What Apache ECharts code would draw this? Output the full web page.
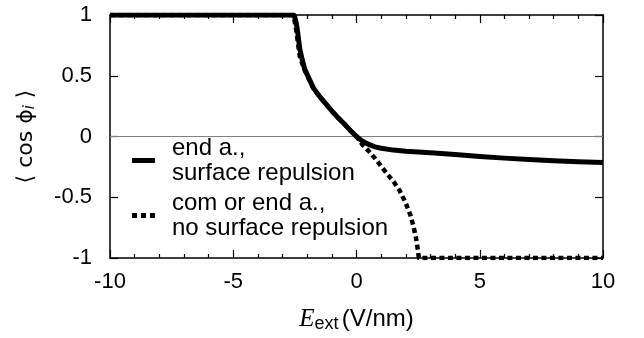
<!DOCTYPE html>
<html>
<head>
<meta charset="utf-8">
<script src="https://cdn.jsdelivr.net/npm/echarts@6/dist/echarts.min.js"></script>
<style>
html,body{margin:0;padding:0;background:#fff;}
#c{width:644px;height:338px;}
</style>
</head>
<body>
<div id="c"></div>
<script>
// Data
const E_solid = [-10, -2.55, -2.5, -2.45, -2.4, -2.35, -2.3, -2.2, -2.1, -2.0, -1.75, -1.5, -1.25, -1.0, -0.75, -0.5, -0.25, 0, 0.25, 0.5, 0.75, 1, 1.5, 2, 2.5, 3, 4, 5, 6, 7, 8, 9, 10];
const cos_solid = [1, 1, 0.98, 0.94, 0.88, 0.8, 0.72, 0.63, 0.555, 0.51, 0.4, 0.33, 0.27, 0.21, 0.155, 0.105, 0.05, 0.0, -0.04, -0.065, -0.085, -0.097, -0.112, -0.122, -0.128, -0.134, -0.149, -0.165, -0.178, -0.19, -0.2, -0.208, -0.215];

const E_dashed = [-10, -2.6, -2.55, -2.5, -2.45, -2.4, -2.35, -2.3, -2.2, -2.1, -2.0, -1.75, -1.5, -1.25, -1.0, -0.75, -0.5, -0.25, 0, 0.25, 0.5, 0.75, 1.0, 1.25, 1.5, 1.75, 2.0, 2.1, 2.2, 2.3, 2.4, 2.45, 2.5, 2.53, 10];
const cos_dashed = [1, 1, 0.98, 0.94, 0.88, 0.81, 0.73, 0.66, 0.6, 0.545, 0.5, 0.4, 0.33, 0.27, 0.21, 0.155, 0.105, 0.05, 0.0, -0.07, -0.12, -0.18, -0.245, -0.31, -0.37, -0.445, -0.55, -0.6, -0.655, -0.73, -0.82, -0.88, -0.95, -1, -1];

const zeroE = [-10, 10];
const zeroV = [0, 0];

const xTicks = [-10, -5, 0, 5, 10];
const yTicks = [-1, -0.5, 0, 0.5, 1];

const nameSolid = 'end a.,\nsurface repulsion';
const nameDashed = 'com or end a.,\nno surface repulsion';

function pairs(xs, ys){ return xs.map((x,i)=>[x, ys[i]]); }

const chart = echarts.init(document.getElementById('c'), null, {renderer:'canvas'});
const fontFam = '"Liberation Sans", Arial, Helvetica, sans-serif';
const axisCommon = {
  axisLine:{show:true, onZero:false, lineStyle:{color:'#000', width:1.5}},
  axisTick:{show:true, inside:true, length:8, lineStyle:{color:'#000', width:1.2}},
  splitLine:{show:false}
};
chart.setOption({
  animation:false,
  backgroundColor:'#fff',
  textStyle:{fontFamily:fontFam, color:'#000'},
  grid:{left:110, right:41, top:15, bottom:77, containLabel:false},
  legend:{
    orient:'vertical', left:127, top:118, itemWidth:23, itemHeight:5, itemGap:-20,
    symbolKeepAspect:false,
    data:[
      {name:nameSolid, icon:'rect'},
      {name:nameDashed, icon:'path://M0,0h5v5h-5z M9,0h5v5h-5z M18,0h5v5h-5z'}
    ],
    itemStyle:{color:'#000'},
    textStyle:{fontFamily:fontFam, fontSize:24, color:'#000', lineHeight:25, padding:[25,0,0,12]}
  },
  xAxis:[
    Object.assign({}, axisCommon, {
      type:'value', position:'bottom', min:xTicks[0], max:xTicks[xTicks.length-1], interval:5,
      minorTick:{show:true, splitNumber:5, length:4, lineStyle:{color:'#000', width:1.2}},
      axisLabel:{show:true, fontSize:22, color:'#000', margin:13, fontFamily:fontFam},
      name:'{e|E}{s|ext} {n|(V/nm)}', nameLocation:'middle', nameGap:47,
      nameTextStyle:{rich:{
        e:{fontFamily:'"Liberation Serif", "Times New Roman", serif', fontStyle:'italic', fontSize:25, color:'#000'},
        s:{fontFamily:fontFam, fontSize:18, color:'#000', padding:[10,0,0,0]},
        n:{fontFamily:fontFam, fontSize:24, color:'#000'}
      }}
    }),
    Object.assign({}, axisCommon, {
      type:'value', position:'top', min:xTicks[0], max:xTicks[xTicks.length-1], interval:5,
      minorTick:{show:true, splitNumber:5, length:4, lineStyle:{color:'#000', width:1.2}},
      axisLabel:{show:false}
    })
  ],
  yAxis:[
    Object.assign({}, axisCommon, {
      type:'value', position:'left', min:yTicks[0], max:yTicks[yTicks.length-1], interval:0.5,
      axisLabel:{show:true, fontSize:22, color:'#000', margin:18, fontFamily:fontFam},
      name:'{a|⟨ cos ϕ}{i|i}{a| ⟩}', nameLocation:'middle', nameGap:72, nameRotate:90,
      nameTextStyle:{rich:{
        a:{fontFamily:'"DejaVu Sans", sans-serif', fontSize:22, color:'#000'},
        i:{fontFamily:'"DejaVu Sans", sans-serif', fontStyle:'italic', fontSize:15, color:'#000', padding:[9,0,0,0]}
      }}
    }),
    Object.assign({}, axisCommon, {
      type:'value', position:'right', min:yTicks[0], max:yTicks[yTicks.length-1], interval:0.5,
      axisLabel:{show:false}
    })
  ],
  series:[
    {
      type:'line', name:'zero', data:pairs(zeroE, zeroV), showSymbol:false, symbol:'none',
      lineStyle:{color:'#808080', width:1}, z:1, silent:true
    },
    {
      type:'line', name:nameSolid, data:pairs(E_solid, cos_solid), showSymbol:false, symbol:'none',
      lineStyle:{color:'#000', width:5, type:'solid', cap:'butt', join:'round'}, itemStyle:{color:'#000'}, z:3
    },
    {
      type:'line', name:nameDashed, data:pairs(E_dashed, cos_dashed), showSymbol:false, symbol:'none',
      lineStyle:{color:'#000', width:4.5, type:[5,3.5], cap:'butt', join:'round'}, itemStyle:{color:'#000'}, z:4
    }
  ]
});
</script>
</body>
</html>
